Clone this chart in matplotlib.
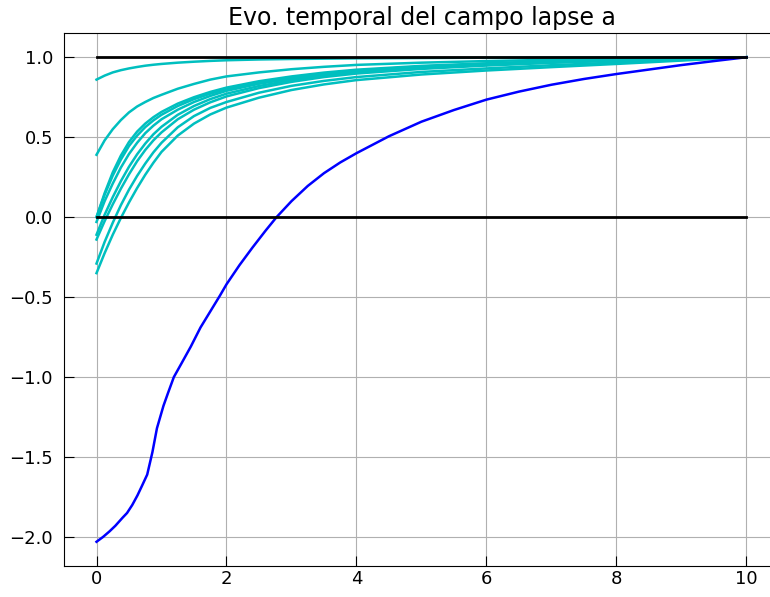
import numpy as np
import matplotlib
matplotlib.use("Agg")
from matplotlib import pyplot as plt

# tiempos de muestreo de las curvas cian
t = [0, 0.125, 0.25, 0.375, 0.5, 0.625, 0.75, 0.875, 1, 1.25, 1.5, 1.75, 2,
     2.5, 3, 3.5, 4, 5, 6, 7, 8, 9, 10]

# curvas cian
a_086 = [0.86, 0.885, 0.905, 0.919, 0.93, 0.939, 0.947, 0.953, 0.958, 0.966, 0.972, 0.977,
         0.981, 0.986, 0.989, 0.991, 0.993, 0.995, 0.997, 0.998, 0.999, 0.9995, 1.0]
a_039 = [0.39, 0.48, 0.55, 0.607, 0.655, 0.692, 0.72, 0.745, 0.765, 0.803, 0.833, 0.86,
         0.88, 0.905, 0.925, 0.94, 0.952, 0.966, 0.976, 0.984, 0.99, 0.995, 1.0]
a_000 = [0.0, 0.15, 0.28, 0.385, 0.47, 0.535, 0.585, 0.625, 0.658, 0.71, 0.75, 0.783,
         0.81, 0.85, 0.88, 0.904, 0.922, 0.946, 0.962, 0.975, 0.985, 0.993, 1.0]
a_000b = [0.0, 0.14, 0.26, 0.36, 0.445, 0.51, 0.563, 0.605, 0.64, 0.695, 0.738, 0.772,
          0.80, 0.842, 0.873, 0.898, 0.917, 0.942, 0.959, 0.973, 0.984, 0.992, 1.0]
a_m003 = [-0.03, 0.1, 0.21, 0.31, 0.395, 0.465, 0.525, 0.572, 0.612, 0.672, 0.72, 0.758,
          0.79, 0.834, 0.866, 0.892, 0.912, 0.938, 0.956, 0.971, 0.982, 0.991, 1.0]
a_m011 = [-0.11, 0.015, 0.125, 0.225, 0.315, 0.393, 0.46, 0.518, 0.565, 0.64, 0.695, 0.738,
          0.772, 0.82, 0.856, 0.884, 0.905, 0.932, 0.952, 0.968, 0.98, 0.99, 1.0]
a_m014 = [-0.14, -0.025, 0.08, 0.178, 0.268, 0.35, 0.42, 0.48, 0.53, 0.612, 0.672, 0.718,
          0.755, 0.807, 0.846, 0.876, 0.898, 0.927, 0.948, 0.965, 0.978, 0.99, 1.0]
a_m029 = [-0.29, -0.155, -0.035, 0.075, 0.172, 0.258, 0.335, 0.405, 0.465, 0.562, 0.632, 0.683,
          0.72, 0.778, 0.821, 0.852, 0.876, 0.908, 0.93, 0.95, 0.967, 0.983, 1.0]
a_m035 = [-0.35, -0.225, -0.11, -0.005, 0.092, 0.182, 0.265, 0.34, 0.408, 0.51, 0.585, 0.642,
          0.685, 0.747, 0.795, 0.83, 0.857, 0.892, 0.917, 0.938, 0.958, 0.979, 1.0]
cian = [a_086, a_039, a_000, a_000b, a_m003, a_m011, a_m014, a_m029, a_m035]

# curva azul
t_azul = [0, 0.1, 0.2, 0.29, 0.4, 0.47, 0.55, 0.63, 0.7, 0.78, 0.86, 0.93, 1.03, 1.1,
          1.19, 1.3, 1.45, 1.6, 1.75, 1.9, 2.0, 2.2, 2.4, 2.6, 2.77, 3.0, 3.25, 3.5,
          3.75, 4.0, 4.5, 5.0, 5.5, 6, 6.5, 7, 7.5, 8, 8.5, 9, 9.5, 10]
a_azul = [-2.03, -2.0, -1.965, -1.93, -1.88, -1.85, -1.80, -1.74, -1.68, -1.61, -1.47,
          -1.32, -1.18, -1.1, -1.0, -0.92, -0.81, -0.69, -0.59, -0.49, -0.42, -0.30,
          -0.19, -0.085, 0.0, 0.1, 0.195, 0.275, 0.342, 0.40, 0.506, 0.597, 0.67,
          0.735, 0.785, 0.828, 0.864, 0.895, 0.923, 0.951, 0.976, 1.0]

# referencias
t_ref = [0, 10]
uno = [1, 1]
cero = [0, 0]

fig = plt.figure(figsize=(7.7, 5.97), dpi=100)
# el eje sigue mas alla del borde derecho, como en la captura recortada
ax = fig.add_axes([64 / 770, 31 / 597, 780 / 770, 533 / 597])

for a in cian:
    ax.plot(t, a, color='c', lw=1.8)
ax.plot(t_azul, a_azul, color='b', lw=1.8)
ax.plot(t_ref, uno, color='k', lw=2)
ax.plot(t_ref, cero, color='k', lw=2)

ax.set_xlim(-0.5, -0.5 + 780 / 65)
ax.set_xticks([0, 2, 4, 6, 8, 10])
ax.set_title('Evo. temporal del campo lapse a', fontsize=17, x=715 / 780 / 2)
ax.grid(True)
ax.spines['right'].set_visible(False)
ax.tick_params(direction='in', length=7, labelsize=13)
ax.tick_params(axis='y', pad=8)
ax.tick_params(axis='x', pad=3)

fig.savefig('out.png', dpi=100)
